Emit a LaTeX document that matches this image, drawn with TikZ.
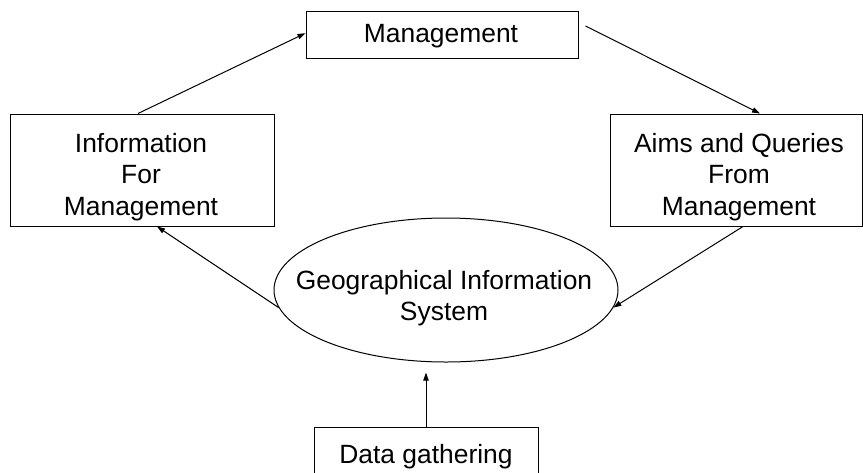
\documentclass[tikz,border=0pt]{standalone}
\usepackage{fontspec}
\setmainfont{Liberation Sans}
\usetikzlibrary{shapes.geometric,arrows.meta}
\begin{document}
\begin{tikzpicture}[x=0.75pt,y=-0.75pt,
  box/.style={draw,line width=0.75pt,inner sep=0pt},
  lbl/.style={inner sep=0pt,align=center,font=\fontsize{19.8}{23.4}\selectfont},
  conn/.style={line width=0.75pt,-{Triangle[length=6pt,width=4pt]}}]
\useasboundingbox (0,0) rectangle (863,472);
\node[box,minimum width=204pt,minimum height=35.25pt] (mgmt) at (442,34.5) {};
\node[lbl] (mgmttext) at (441,36) {Management};
\node[box,minimum width=198pt,minimum height=84pt] (info) at (142,170) {};
\node[lbl] (infotext) at (141,177) {Information\\For\\Management};
\node[box,minimum width=189pt,minimum height=84pt] (aims) at (736,170) {};
\node[lbl] (aimstext) at (739,177) {Aims and Queries\\From\\Management};
\node[draw,ellipse,line width=0.75pt,inner sep=0pt,minimum width=258pt,minimum height=108pt] (gis) at (446,290) {};
\node[lbl] (gistext) at (444,298) {Geographical Information\\System};
\node[box,minimum width=168pt,minimum height=43.5pt] (data) at (426,456) {};
\node[lbl] (datatext) at (426,457) {Data gathering};
\draw[conn] ([xshift=-3pt]info.north) -- ([yshift=1pt]mgmt.west);
\draw[conn] ([xshift=5.25pt,yshift=6.4pt]mgmt.east) -- ([xshift=18pt]aims.north);
\draw[conn] ([xshift=5.25pt]aims.south) -- (gis.-6);
\draw[conn] (gis.186) -- ([xshift=11.25pt]info.south);
\draw[conn,shorten >=7.5pt] (data.north) -- (gis.south -| data.north);
\end{tikzpicture}
\end{document}
